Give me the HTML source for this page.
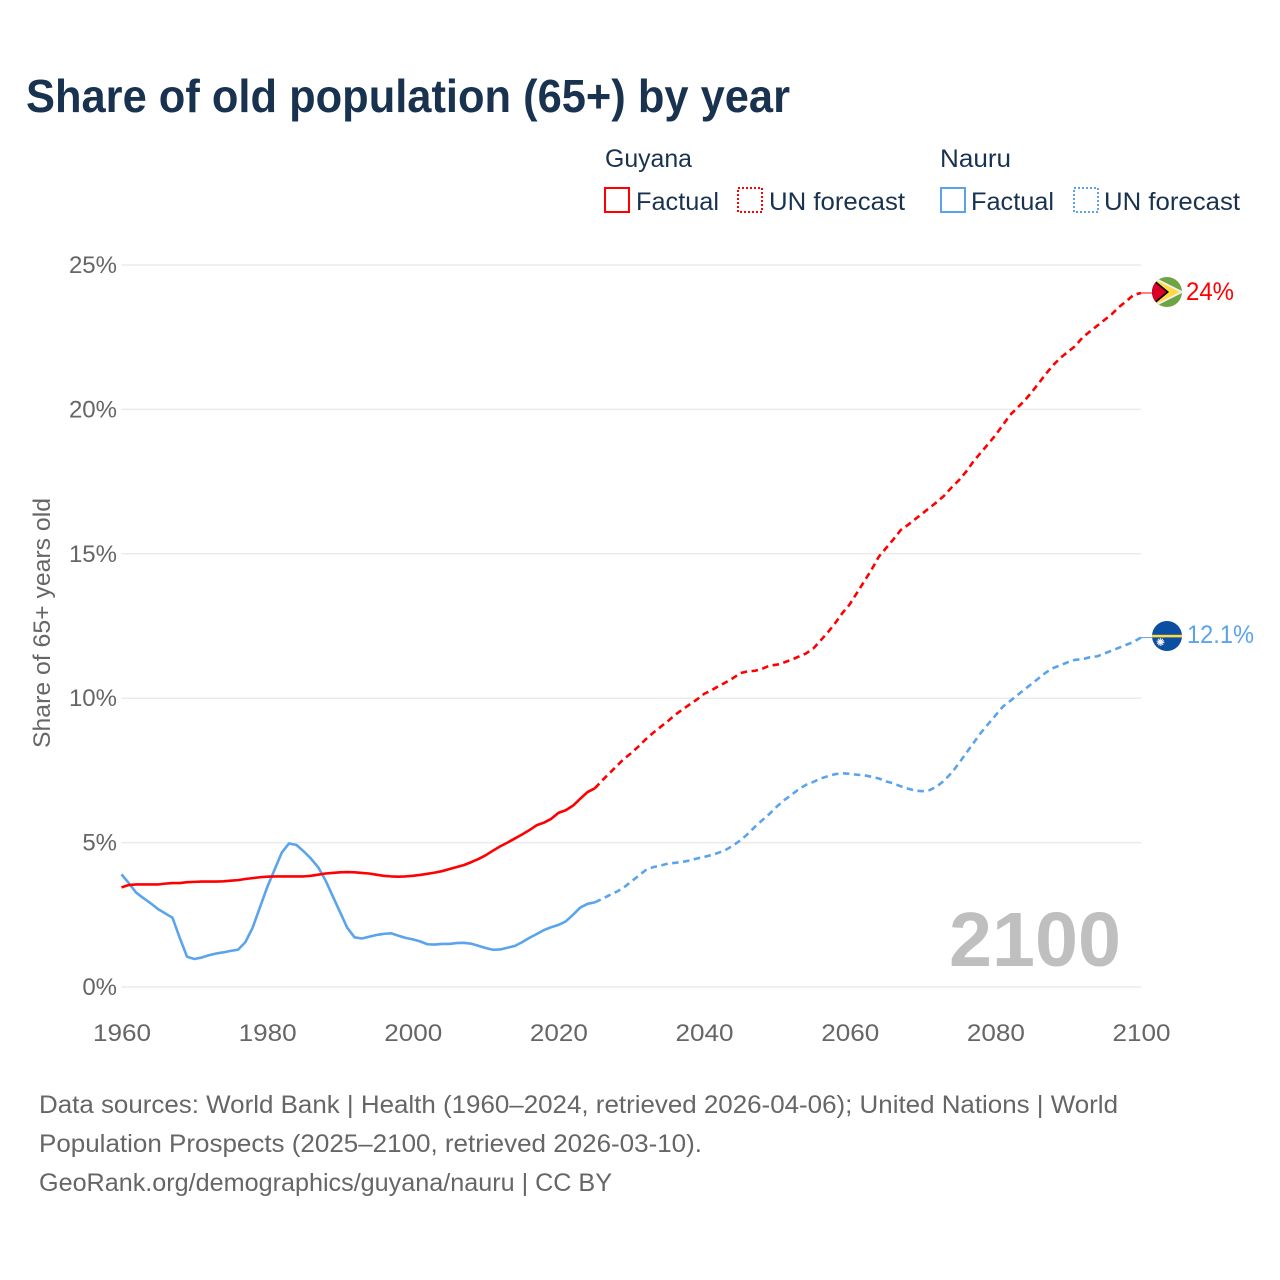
<!DOCTYPE html>
<html lang="en">
<head>
<meta charset="utf-8">
<title>Share of old population (65+) by year</title>
<style>
html,body{margin:0;padding:0;background:#fff;width:1280px;height:1280px;overflow:hidden}
svg{display:block}
text{font-family:"Liberation Sans",sans-serif}
</style>
</head>
<body>
<svg id="chart" width="1280" height="1280" viewBox="0 0 1280 1280" xmlns="http://www.w3.org/2000/svg">
  <defs>
    <clipPath id="flag-clip-g"><circle cx="1167" cy="292" r="15"/></clipPath>
    <clipPath id="flag-clip-n"><circle cx="1167" cy="636" r="15"/></clipPath>
  </defs>
  <text x="26" y="112" font-size="46" font-weight="700" fill="#18324f" textLength="764" lengthAdjust="spacingAndGlyphs">Share of old population (65+) by year</text>

  <g fill="#18324f" font-size="25">
    <text x="605" y="167" textLength="87" lengthAdjust="spacingAndGlyphs">Guyana</text>
    <text x="940" y="167" textLength="71" lengthAdjust="spacingAndGlyphs">Nauru</text>
    <rect x="605" y="188" width="24" height="24" fill="none" stroke="#ff0000" stroke-width="2"/>
    <text x="636" y="210" textLength="83" lengthAdjust="spacingAndGlyphs">Factual</text>
    <rect x="738" y="188" width="24" height="24" fill="none" stroke="#ff0000" stroke-width="2" stroke-dasharray="2 2"/>
    <text x="769" y="210" textLength="136" lengthAdjust="spacingAndGlyphs">UN forecast</text>
    <rect x="941" y="188" width="24" height="24" fill="none" stroke="#5ba4ed" stroke-width="2"/>
    <text x="971" y="210" textLength="83" lengthAdjust="spacingAndGlyphs">Factual</text>
    <rect x="1074" y="188" width="24" height="24" fill="none" stroke="#5ba4ed" stroke-width="2" stroke-dasharray="2 2"/>
    <text x="1104" y="210" textLength="136" lengthAdjust="spacingAndGlyphs">UN forecast</text>
  </g>

  <g id="grid"></g>
  <g id="yticks"></g>
  <g id="xticks"></g>
  <text transform="translate(50 748) rotate(-90)" font-size="24" fill="#666666" textLength="250" lengthAdjust="spacingAndGlyphs">Share of 65+ years old</text>

  <text x="949" y="966" font-size="77" font-weight="700" fill="#bfbfbf" textLength="172" lengthAdjust="spacingAndGlyphs">2100</text>

  <g id="series"></g>

  <g clip-path="url(#flag-clip-g)">
    <rect x="1150" y="275" width="34" height="34" fill="#6da544"/>
    <polygon points="1154,277 1184,292 1154,307" fill="#f0f0f0"/>
    <polygon points="1155,279.500 1180,292 1155,304.500" fill="#ffda44"/>
    <polygon points="1152,278 1169,292 1152,306" fill="#000000"/>
    <polygon points="1150,278.500 1166.500,292 1150,305.500" fill="#d80027"/>
  </g>
  <g clip-path="url(#flag-clip-n)">
    <rect x="1150" y="619" width="34" height="34" fill="#0b4ea2"/>
    <rect x="1150" y="634.800" width="34" height="2.600" fill="#ffda44"/>
    <circle cx="1160.500" cy="642" r="2.600" fill="#f0f0f0"/>
    <circle cx="1160.500" cy="642" r="3.300" fill="none" stroke="#f0f0f0" stroke-width="1.200" stroke-dasharray="1.200 0.900"/>
  </g>
  <text x="1186" y="300" font-size="25" fill="#ff0000" textLength="48" lengthAdjust="spacingAndGlyphs">24%</text>
  <text x="1187" y="643" font-size="25" fill="#5ba4ed" textLength="67" lengthAdjust="spacingAndGlyphs">12.1%</text>

  <g fill="#666666" font-size="25">
    <text x="39" y="1113" textLength="1079" lengthAdjust="spacingAndGlyphs">Data sources: World Bank | Health (1960–2024, retrieved 2026-04-06); United Nations | World</text>
    <text x="39" y="1152" textLength="663" lengthAdjust="spacingAndGlyphs">Population Prospects (2025–2100, retrieved 2026-03-10).</text>
    <text x="39" y="1191" textLength="573" lengthAdjust="spacingAndGlyphs">GeoRank.org/demographics/guyana/nauru | CC BY</text>
  </g>
</svg>
<script>
const yTickValues = [0, 5, 10, 15, 20, 25];
const yTickLabels = ["0%", "5%", "10%", "15%", "20%", "25%"];
const xTickYears = [1960, 1980, 2000, 2020, 2040, 2060, 2080, 2100];
const xTickLabels = ["1960", "1980", "2000", "2020", "2040", "2060", "2080", "2100"];
const factualStartYear = 1960;
const forecastStartYear = 2025;
const guyanaFactual = [3.45,3.53,3.55,3.55,3.55,3.55,3.58,3.6,3.6,3.63,3.64,3.65,3.65,3.65,3.66,3.68,3.7,3.74,3.77,3.8,3.82,3.83,3.83,3.83,3.83,3.83,3.85,3.89,3.93,3.95,3.97,3.98,3.97,3.95,3.93,3.89,3.85,3.83,3.82,3.83,3.85,3.88,3.92,3.96,4.01,4.08,4.15,4.22,4.32,4.43,4.56,4.72,4.87,5.0,5.14,5.28,5.43,5.6,5.69,5.82,6.03,6.12,6.28,6.52,6.75,6.88];
const guyanaForecast = [6.88,7.15,7.4,7.65,7.9,8.1,8.33,8.58,8.8,9.0,9.2,9.42,9.6,9.78,9.95,10.15,10.27,10.42,10.55,10.7,10.87,10.93,10.95,11.02,11.13,11.16,11.24,11.33,11.44,11.55,11.72,12.0,12.28,12.6,12.95,13.25,13.65,14.05,14.45,14.9,15.2,15.5,15.82,16.0,16.2,16.4,16.6,16.8,17.02,17.3,17.55,17.85,18.2,18.5,18.8,19.1,19.45,19.8,20.05,20.3,20.6,20.92,21.25,21.55,21.8,22.0,22.2,22.5,22.7,22.9,23.1,23.3,23.55,23.75,23.97,24.03];
const nauruFactual = [3.9,3.6,3.27,3.08,2.9,2.7,2.55,2.4,1.7,1.05,0.97,1.02,1.1,1.16,1.2,1.25,1.29,1.55,2.05,2.75,3.45,4.05,4.65,4.97,4.92,4.7,4.45,4.15,3.7,3.15,2.6,2.05,1.72,1.68,1.74,1.8,1.84,1.86,1.78,1.7,1.65,1.58,1.48,1.47,1.49,1.49,1.52,1.53,1.5,1.43,1.35,1.29,1.3,1.36,1.42,1.55,1.7,1.83,1.97,2.07,2.15,2.27,2.5,2.75,2.88,2.93];
const nauruForecast = [2.93,3.05,3.18,3.3,3.45,3.65,3.85,4.05,4.15,4.2,4.27,4.3,4.33,4.38,4.45,4.5,4.57,4.65,4.75,4.9,5.08,5.3,5.55,5.78,6.0,6.25,6.47,6.65,6.85,7.0,7.1,7.22,7.3,7.37,7.4,7.38,7.35,7.33,7.28,7.22,7.12,7.05,6.95,6.87,6.8,6.78,6.82,6.95,7.15,7.42,7.75,8.1,8.45,8.8,9.1,9.4,9.7,9.9,10.1,10.3,10.5,10.7,10.9,11.05,11.15,11.25,11.33,11.35,11.42,11.45,11.55,11.65,11.75,11.85,11.95,12.1];

const NS = "http://www.w3.org/2000/svg";
function xScale(year) { return 121.5 + (year - 1960) * (1141 - 121.5) / 140; }
function yScale(v) { return 987 - v * (987 - 265) / 25; }

function svgEl(tag, attrs, parent) {
  const el = document.createElementNS(NS, tag);
  for (const k in attrs) el.setAttribute(k, attrs[k]);
  parent.appendChild(el);
  return el;
}

const gridG = document.getElementById("grid");
const yG = document.getElementById("yticks");
const xG = document.getElementById("xticks");
const seriesG = document.getElementById("series");

yTickValues.forEach(function (v, i) {
  const line = svgEl("line", {x1: 121.5, x2: 1141, y1: yScale(v), y2: yScale(v), stroke: "#ebebeb", "stroke-width": 1.5}, gridG);
  
  
  const t = svgEl("text", {x: 117, y: yScale(v) + 8, "text-anchor": "end", "font-size": 24, fill: "#666666"}, yG);
  
  
  t.textContent = yTickLabels[i];
});

xTickYears.forEach(function (yr, i) {
  const t = svgEl("text", {x: xScale(yr) + 0.5 - 29, y: 1041, "font-size": 24, fill: "#666666", textLength: 58, lengthAdjust: "spacingAndGlyphs"}, xG);
  
  
  t.textContent = xTickLabels[i];
});

function linePath(values, startYear) {
  return values.map(function (v, i) {
    return (i ? "L" : "M") + xScale(startYear + i).toFixed(2) + " " + yScale(v).toFixed(2);
  }).join(" ");
}

function drawLine(values, startYear, color, dashed) {
  const attrs = {d: linePath(values, startYear), fill: "none", stroke: color, "stroke-width": 2.6, "stroke-linejoin": "round"};
  if (dashed) attrs["stroke-dasharray"] = "6.5 4.5";
  return svgEl("path", attrs, seriesG);
}

const nauruFactualLine = drawLine(nauruFactual, factualStartYear, "#5ba4ed", false);


const nauruForecastLine = drawLine(nauruForecast, forecastStartYear, "#5ba4ed", true);


const guyanaFactualLine = drawLine(guyanaFactual, factualStartYear, "#ff0000", false);


const guyanaForecastLine = drawLine(guyanaForecast, forecastStartYear, "#ff0000", true);



const gLead = svgEl("line", {x1: xScale(2100), x2: 1152, y1: yScale(guyanaForecast[guyanaForecast.length - 1]), y2: yScale(guyanaForecast[guyanaForecast.length - 1]), stroke: "#ff0000", "stroke-width": 1}, seriesG);


const nLead = svgEl("line", {x1: xScale(2100), x2: 1152, y1: yScale(nauruForecast[nauruForecast.length - 1]), y2: yScale(nauruForecast[nauruForecast.length - 1]), stroke: "#5ba4ed", "stroke-width": 1}, seriesG);


</script>
</body>
</html>
